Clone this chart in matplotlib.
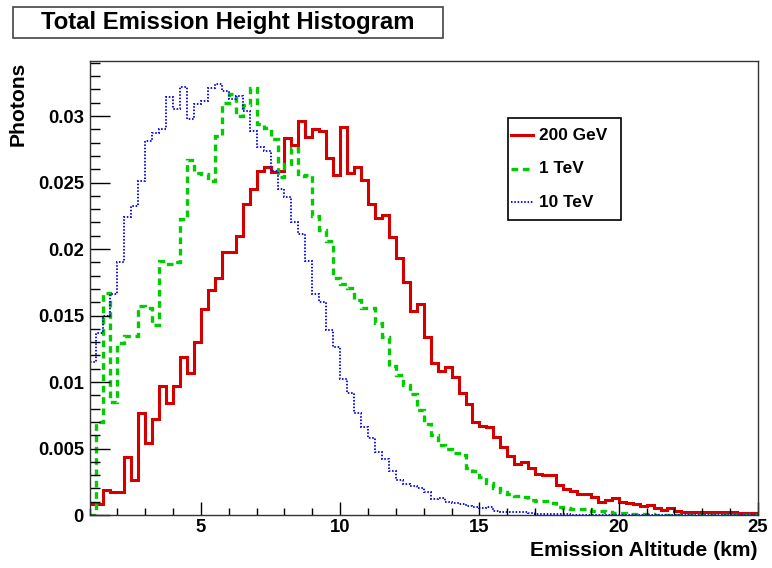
import numpy as np
import matplotlib
matplotlib.use('Agg')
import matplotlib.pyplot as plt
from matplotlib.lines import Line2D
from matplotlib.patches import Rectangle

plt.rcParams['font.family'] = ['Liberation Sans', 'DejaVu Sans']
plt.rcParams['font.weight'] = 'bold'

# 0.25 km bins from 1 to 25 km
edges = np.arange(1.0, 25.001, 0.25)

gev200 = [
    0.0008, 0.0008, 0.00185, 0.0017, 0.0017, 0.00435, 0.00265, 0.0077,
    0.0054, 0.0072, 0.0097, 0.0084, 0.0097, 0.0119, 0.0107, 0.0130,
    0.0155, 0.0169, 0.01785, 0.0198, 0.0198, 0.0210, 0.02335, 0.0245,
    0.0259, 0.0262, 0.0258, 0.0259, 0.02835, 0.0278, 0.02965, 0.0284,
    0.0290, 0.02885, 0.02685, 0.02553, 0.0292, 0.0257, 0.0262, 0.0252,
    0.0234, 0.0223, 0.02255, 0.0209, 0.0193, 0.0175, 0.01535, 0.0159,
    0.0134, 0.0114, 0.0108, 0.0111, 0.01035, 0.00915, 0.00835, 0.0070,
    0.0067, 0.0066, 0.0059, 0.0051, 0.0044, 0.0038, 0.0040, 0.0035,
    0.0031, 0.0030, 0.0030, 0.00225, 0.00195, 0.00183, 0.00158, 0.00158,
    0.00138, 0.0010, 0.00113, 0.00125, 0.0010, 0.00088, 0.0008, 0.00068,
    0.00075, 0.0005, 0.00038, 0.0005, 0.00033, 0.0002, 0.0002, 0.00022,
    0.0002, 0.00022, 0.00025, 0.00022, 0.0002, 0.00015, 0.00015, 0.00015,
]

tev1 = [
    0.0, 0.0070, 0.01673, 0.00848, 0.0129, 0.01348, 0.01348, 0.01573,
    0.01555, 0.01428, 0.0191, 0.0189, 0.01905, 0.02228, 0.02673, 0.02573,
    0.02565, 0.02515, 0.02848, 0.03098, 0.03165, 0.0300, 0.03085, 0.0321,
    0.0294, 0.0291, 0.0283, 0.0254, 0.0264, 0.0276, 0.0255, 0.0256,
    0.0225, 0.0214, 0.0206, 0.0178, 0.0174, 0.0171, 0.0162, 0.0156,
    0.0156, 0.0144, 0.0134, 0.0112, 0.0105, 0.0098, 0.0091, 0.0079,
    0.00685, 0.0060, 0.0053, 0.00494, 0.00469, 0.00451, 0.00357, 0.00331,
    0.00288, 0.00238, 0.0020, 0.00175, 0.00158, 0.00143, 0.00133, 0.00113,
    0.00105, 0.00105, 0.00088, 0.00058, 0.0005, 0.00043, 0.00043, 0.00043,
    0.00033, 0.00033, 0.00023, 0.00018, 0.00015, 0.0001, 0.00005, 0.00005,
    0.00004, 0.00003, 0.00002, 0.00002, 0.00002, 0.00002, 0.00002, 0.00002,
    0.00002, 0.00002, 0.00002, 0.00002, 0.00002, 0.00002, 0.00002, 0.00002,
]

tev10 = [
    0.0115, 0.0137, 0.0150, 0.0166, 0.0190, 0.0224, 0.0232, 0.0251,
    0.0281, 0.0287, 0.0290, 0.0314, 0.0305, 0.0322, 0.0298, 0.0309,
    0.0311, 0.0321, 0.0324, 0.0319, 0.0313, 0.0315, 0.0304, 0.0289,
    0.0277, 0.0274, 0.0259, 0.0245, 0.0239, 0.0220, 0.0211, 0.0191,
    0.0166, 0.0160, 0.0139, 0.0126, 0.0102, 0.0092, 0.0077, 0.0066,
    0.0058, 0.0047, 0.0042, 0.0033, 0.0026, 0.0023, 0.0022, 0.0020,
    0.0017, 0.0012, 0.0013, 0.0010, 0.00088, 0.00083, 0.00068, 0.00058,
    0.0005, 0.00063, 0.00033, 0.00025, 0.00022, 0.0002, 0.0002, 0.00015,
    0.0001, 0.00008, 0.00008, 0.00006, 0.00005, 0.00003, 0.00003, 0.00003,
    0.00003, 0.00002, 0.00002, 0.00002, 0.00002, 0.00002, 0.00002, 0.00001,
    0.00001, 0.00001, 0.00001, 0.00001, 0.00001, 0.00001, 0.00001, 0.00001,
    0.00001, 0.00001, 0.00001, 0.00001, 0.00001, 0.00001, 0.00001, 0.00001,
]

labels = ['200 GeV', '1 TeV', '10 TeV']
colors = ['#d40000', '#00cc00', '#1010ee']
styles = ['-', (0, (2.0, 1.4)), (0, (0.8, 0.9))]
widths = [2.2, 2.4, 1.4]

W, H = 772, 568
fig = plt.figure(figsize=(W / 100, H / 100), dpi=100)
ax = fig.add_axes([89.5 / W, 1 - 515 / H, (758 - 89.5) / W, (515 - 61.5) / H])

for vals, c, ls, lw in zip([gev200, tev1, tev10], colors, styles, widths):
    ax.stairs(vals, edges, baseline=None, color=c, linestyle=ls, linewidth=lw)

ax.set_xlim(1, 25)
ax.set_ylim(0, 0.0341)
ax.set_xticks([5, 10, 15, 20, 25])
ax.set_xticks(np.arange(1, 26, 1), minor=True)
ax.set_yticks([0, 0.005, 0.01, 0.015, 0.02, 0.025, 0.03])
ax.set_yticklabels(['0', '0.005', '0.01', '0.015', '0.02', '0.025', '0.03'])
ax.set_yticks(np.arange(0, 0.0341, 0.001), minor=True)
ax.tick_params(axis='both', which='both', direction='in', top=False, right=False,
               labelsize=13.3, color='black', width=1)
ax.tick_params(axis='y', which='major', length=14.5, pad=4)
ax.tick_params(axis='y', which='minor', length=7.2)
ax.tick_params(axis='x', which='major', length=9.4, pad=3)
ax.tick_params(axis='x', which='minor', length=5)
for s in ax.spines.values():
    s.set_color('#333333')
    s.set_linewidth(1.0)

fig.text(757 / W, 1 - 550 / H, 'Emission Altitude (km)', ha='right', va='center',
         fontsize=15.2, fontweight='bold')
fig.text(18 / W, 1 - 62 / H, 'Photons', rotation=90, ha='center', va='top',
         fontsize=15.2, fontweight='bold')

# title box
fig.patches.append(Rectangle((13 / W, 1 - 38.3 / H), (443.3 - 13) / W, 31 / H,
                             transform=fig.transFigure, facecolor='white',
                             edgecolor='#444444', linewidth=1.2))
fig.text(228 / W, 1 - 22 / H, 'Total Emission Height Histogram', ha='center',
         va='center', fontsize=17.2, fontweight='bold')

# legend box
lx0, lx1, ly0, ly1 = 508, 621, 118, 220
fig.patches.append(Rectangle((lx0 / W, 1 - ly1 / H), (lx1 - lx0) / W, (ly1 - ly0) / H,
                             transform=fig.transFigure, facecolor='white',
                             edgecolor='black', linewidth=1.2))
for i, (lab, c, ls, lw) in enumerate(zip(labels, colors, styles, widths)):
    yy = 1 - (135 + i * 33.5) / H
    fig.lines.append(Line2D([510.7 / W, 533.3 / W], [yy, yy], transform=fig.transFigure,
                            color=c, linestyle=ls, linewidth=lw))
    fig.text(539 / W, yy, lab, ha='left', va='center', fontsize=12.4, fontweight='bold')

fig.savefig('out.png', dpi=100)
